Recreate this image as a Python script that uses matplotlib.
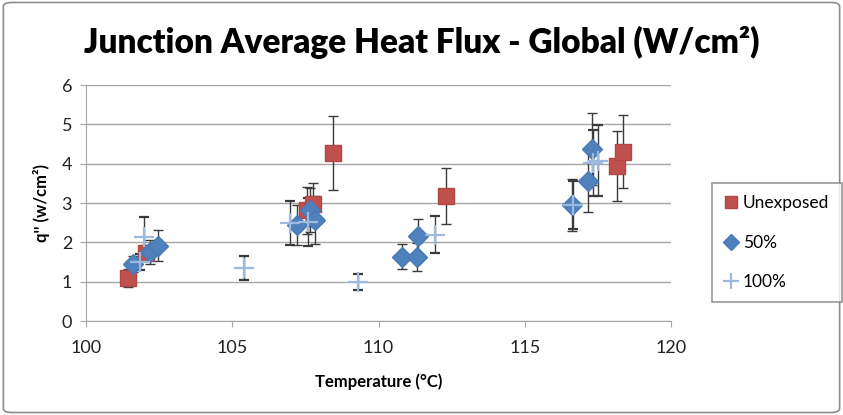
import matplotlib.pyplot as plt
from matplotlib.patches import FancyBboxPatch

# junction temperature (C), heat flux (W/cm2) and error for each exposure set
unexp_temp = [101.44, 102.05, 107.56, 107.76, 108.44, 112.31, 118.15, 118.36]
unexp_flux = [1.09, 1.73, 2.82, 2.97, 4.27, 3.18, 3.94, 4.30]
unexp_err = [0.22, 0.2, 0.6, 0.55, 0.94, 0.72, 0.88, 0.93]

half_temp = [101.6, 102.2, 102.45, 107.2, 107.66, 107.83, 110.8, 111.3, 111.35, 116.6, 117.16, 117.3]
half_flux = [1.45, 1.75, 1.92, 2.44, 2.82, 2.57, 1.63, 1.63, 2.16, 2.95, 3.56, 4.38]
half_err = [0.2, 0.3, 0.4, 0.5, 0.55, 0.6, 0.32, 0.35, 0.44, 0.65, 0.8, 0.92]

full_temp = [101.85, 102.0, 105.4, 106.97, 107.6, 109.3, 111.93, 116.65, 117.33, 117.5]
full_flux = [1.5, 2.14, 1.35, 2.49, 2.52, 0.99, 2.19, 2.95, 4.02, 4.08]
full_err = [0.2, 0.5, 0.3, 0.55, 0.6, 0.21, 0.47, 0.6, 0.85, 0.9]

plt.rcParams["font.family"] = ["Lato", "DejaVu Sans"]

fig = plt.figure(figsize=(8.43, 4.15), dpi=100)
fig.patches.append(
    FancyBboxPatch((0.004, 0.006), 0.992, 0.988, boxstyle="round,pad=0,rounding_size=0.01",
                   transform=fig.transFigure, fill=False, edgecolor="#8c8c8c", linewidth=1.2)
)

ax = fig.add_axes([0.102, 0.2265, 0.694, 0.5685])

err_kw = dict(ecolor="#3a3a3a", elinewidth=1, capsize=3.5, capthick=1, linestyle="none", zorder=3)
ax.errorbar(unexp_temp, unexp_flux, yerr=unexp_err, marker="s", markersize=11,
            color="#C0504D", markeredgecolor="#B04744", label="Unexposed", **err_kw)
ax.errorbar(half_temp, half_flux, yerr=half_err, marker="D", markersize=10,
            color="#4F81BD", markeredgecolor="#4A7AB5", label="50%", **err_kw)
ax.errorbar(full_temp, full_flux, yerr=full_err, marker="+", markersize=14, markeredgewidth=1.6,
            color="#9DB9E0", label="100%", **err_kw)

ax.set_xlim(100, 120)
ax.set_ylim(0, 6)
ax.set_xticks([100, 105, 110, 115, 120])
ax.set_yticks(range(7))
ax.grid(axis="y", color="#a6a6a6", linewidth=1)
ax.set_axisbelow(True)
for side in ["top", "right"]:
    ax.spines[side].set_visible(False)
for side in ["left", "bottom"]:
    ax.spines[side].set_color("#a6a6a6")
ax.tick_params(axis="both", colors="#a6a6a6", labelcolor="#222222", labelsize=13, length=4)
ax.tick_params(axis="x", pad=10)
ax.tick_params(axis="y", pad=6)

ax.set_xlabel("Temperature (°C)", fontsize=12, fontweight="bold", labelpad=12)
ax.set_ylabel("q'' (w/cm²)", fontsize=12, fontweight="bold", labelpad=8)
fig.text(0.5, 0.897, "Junction Average Heat Flux - Global (W/cm²)", ha="center", va="center",
         fontsize=24, fontweight="heavy")

handles, labels = ax.get_legend_handles_labels()
handles = [h[0] for h in handles]
leg = fig.legend(handles, labels, loc="center left", bbox_to_anchor=(0.834, 0.415), fontsize=12.5,
                 frameon=True, fancybox=False, edgecolor="#7f7f7f", handlelength=0.8,
                 handletextpad=0.3, labelspacing=1.35, borderpad=0.7, markerscale=0.8)
leg.get_frame().set_linewidth(1.2)

fig.savefig("out.png", dpi=100)
